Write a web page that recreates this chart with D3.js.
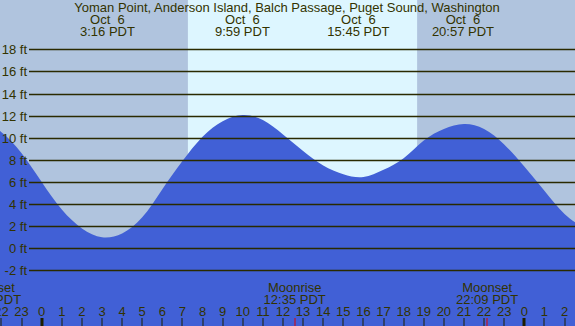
<!DOCTYPE html>
<meta charset="utf-8">
<style>
body { margin: 0; background: #fff; }
svg { display: block; }
text { font-family: "Liberation Sans", Arial, sans-serif; font-size: 13px; fill: #333300; }
</style>
<body>
<svg width="575" height="326"></svg>
<script src="https://cdn.jsdelivr.net/npm/d3@7"></script>
<script>
var title = "Yoman Point, Anderson Island, Balch Passage, Puget Sound, Washington";

// hours from midnight Oct 6 and tide height (ft)
var hours = [-3, -2, -1, 0, 1, 2, 3, 4, 5, 6, 7, 8, 9, 10, 11, 12, 13, 14,
             15, 16, 17, 18, 19, 20, 21, 22, 23, 24, 25, 26, 27];
var heights = [11.5, 10.5, 8.6, 6.0, 3.5, 1.8, 1.0, 1.35, 2.8, 5.35, 7.9, 10.1, 11.5, 12.05, 11.6, 10.3, 8.8, 7.5,
               6.7, 6.45, 7.1, 8.15, 9.75, 10.8, 11.25, 10.8, 9.4, 7.4, 5.2, 3.1, 1.8];

// high / low tide labels
var tideTimes = [3.27, 9.98, 15.75, 20.95];
var tideLabels = ["3:16 PDT", "9:59 PDT", "15:45 PDT", "20:57 PDT"];

// moon events
var moonTimes = [-2.57, 12.58, 22.15];
var moonNames = ["Moonset", "Moonrise", "Moonset"];
var moonLabels = ["21:26 PDT", "12:35 PDT", "22:09 PDT"];

var sunrise = 7.27, sunset = 18.67;
var yTicks = [-2, 0, 2, 4, 6, 8, 10, 12, 14, 16, 18];

var svg = d3.select("svg"),
    width = +svg.attr("width"),
    height = +svg.attr("height");

var x = d3.scaleLinear().domain([0, 24]).range([41.7, 524.3]);
var y = d3.scaleLinear().domain([0, 18]).range([248.3, 49.3]);

// night / day background
svg.append("rect")
    .attr("width", width).attr("height", height)
    .attr("fill", "#b0c4de");
svg.append("rect")
    .attr("x", x(sunrise)).attr("y", 0)
    .attr("width", x(sunset) - x(sunrise)).attr("height", height)
    .attr("fill", "#ddf6ff");

// tide area
var data = hours.map(function(h, i) { return {h: h, v: heights[i]}; });
var area = d3.area()
    .x(function(d) { return x(d.h); })
    .y0(height)
    .y1(function(d) { return y(d.v); })
    .curve(d3.curveNatural);

svg.append("path")
    .datum(data)
    .attr("d", area)
    .attr("fill", "#4160d6");

// grid lines and ft labels
var grid = svg.append("g");
grid.selectAll("line")
    .data(yTicks)
    .enter().append("line")
      .attr("x1", 29).attr("x2", width)
      .attr("y1", function(d) { return Math.round(y(d)) + 0.5; })
      .attr("y2", function(d) { return Math.round(y(d)) + 0.5; })
      .attr("stroke", "#2a2a00")
      .attr("stroke-width", 1.3);
grid.selectAll("text")
    .data(yTicks)
    .enter().append("text")
      .attr("x", 27)
      .attr("y", function(d) { return Math.round(y(d)); })
      .attr("dy", "0.36em")
      .attr("text-anchor", "end")
      .text(function(d) { return d + " ft"; });

// title and tide labels
svg.append("text")
    .attr("x", 287).attr("y", 12)
    .attr("text-anchor", "middle")
    .text(title);

var tl = svg.append("g").selectAll("g")
    .data(tideTimes)
    .enter().append("g")
      .attr("transform", function(d) { return "translate(" + x(d) + ",0)"; });
tl.append("text").attr("y", 24).attr("text-anchor", "middle").text("Oct  6").style("white-space", "pre");
tl.append("text").attr("y", 36).attr("text-anchor", "middle").text(function(d, i) { return tideLabels[i]; });

// moon labels
var ml = svg.append("g").selectAll("g")
    .data(moonTimes)
    .enter().append("g")
      .attr("transform", function(d) { return "translate(" + x(d) + ",0)"; });
ml.append("text").attr("y", 292).attr("text-anchor", "middle").text(function(d, i) { return moonNames[i]; });
ml.append("text").attr("y", 304).attr("text-anchor", "middle").text(function(d, i) { return moonLabels[i]; });

// hour axis
var hourTicks = d3.range(-2, 27);
var ax = svg.append("g");
ax.selectAll("text")
    .data(hourTicks)
    .enter().append("text")
      .attr("x", function(d) { return x(d); })
      .attr("y", 316)
      .attr("text-anchor", "middle")
      .text(function(d) { return ((d % 24) + 24) % 24; });
ax.selectAll("rect")
    .data(hourTicks)
    .enter().append("rect")
      .attr("x", function(d) { return Math.round(x(d)) - (d % 24 == 0 ? 1.5 : 0.5); })
      .attr("y", 318)
      .attr("width", function(d) { return d % 24 == 0 ? 3 : 1; })
      .attr("height", 8)
      .attr("fill", "#1e1e00");
ax.selectAll(".moontick")
    .data(moonTimes)
    .enter().append("rect")
      .attr("class", "moontick")
      .attr("x", function(d) { return Math.round(x(d)) - 0.5; })
      .attr("y", 318)
      .attr("width", 1)
      .attr("height", 8)
      .attr("fill", "#e00000");
</script>
</body>
